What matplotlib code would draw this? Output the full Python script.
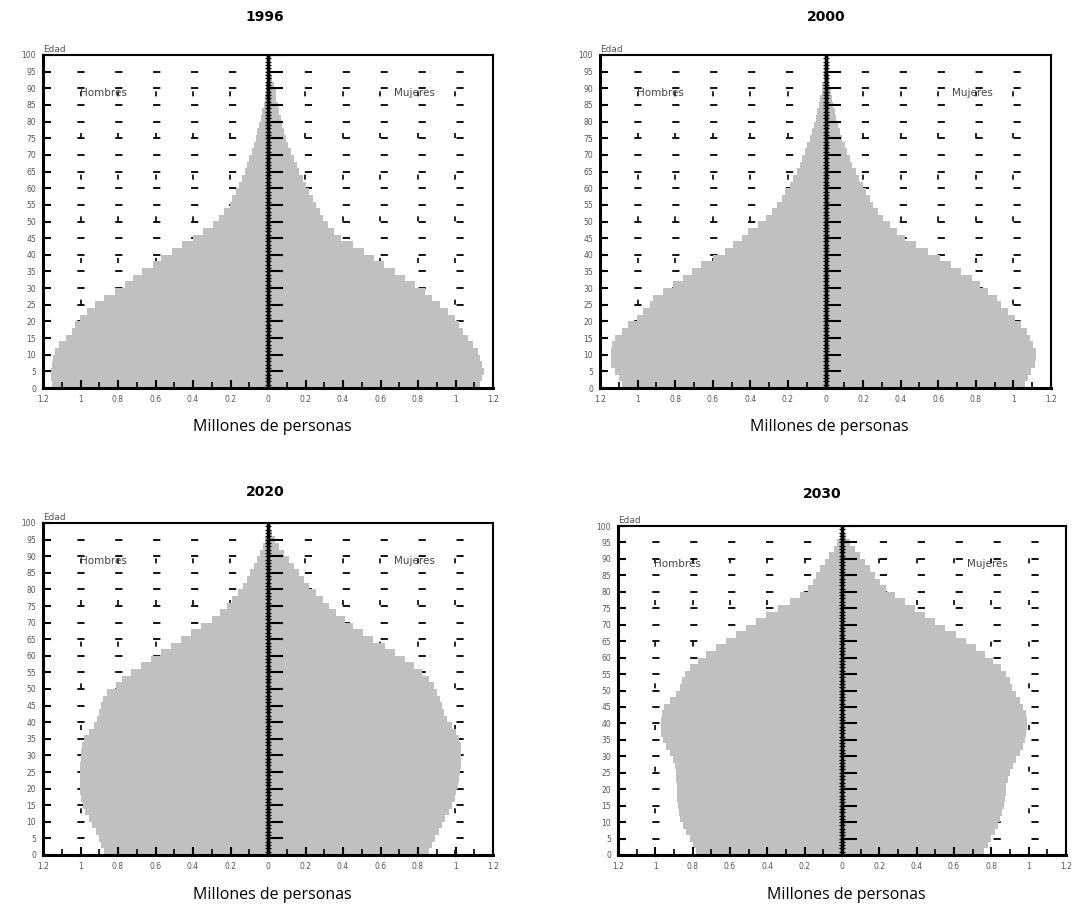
import numpy as np
import matplotlib.pyplot as plt
from matplotlib.ticker import FuncFormatter, MultipleLocator

# edades en grupos de 2 años (0-1, 2-3, ..., 98-99), poblacion en millones
edades = np.arange(0, 100, 2)

h1996 = [1.15, 1.16, 1.16, 1.15, 1.145, 1.135, 1.115, 1.08, 1.045, 1.03,
         1.005, 0.965, 0.925, 0.875, 0.815, 0.765, 0.72, 0.67, 0.615, 0.57,
         0.51, 0.46, 0.40, 0.345, 0.295, 0.26, 0.235, 0.205, 0.19, 0.17,
         0.155, 0.14, 0.125, 0.11, 0.10, 0.087, 0.075, 0.066, 0.058, 0.048,
         0.04, 0.03, 0.022, 0.017, 0.013, 0.009, 0.006, 0.004, 0.002, 0.001]
m1996 = [1.13, 1.14, 1.15, 1.14, 1.13, 1.12, 1.095, 1.065, 1.04, 1.02,
         0.995, 0.96, 0.915, 0.875, 0.835, 0.785, 0.73, 0.675, 0.62, 0.565,
         0.51, 0.455, 0.39, 0.35, 0.32, 0.295, 0.275, 0.255, 0.24, 0.22,
         0.20, 0.185, 0.167, 0.152, 0.14, 0.122, 0.108, 0.095, 0.085, 0.076,
         0.067, 0.058, 0.052, 0.045, 0.04, 0.03, 0.02, 0.014, 0.008, 0.004]

h2000 = [1.085, 1.10, 1.12, 1.14, 1.142, 1.142, 1.135, 1.12, 1.085, 1.05,
         1.005, 0.97, 0.935, 0.917, 0.864, 0.81, 0.757, 0.713, 0.66, 0.60,
         0.535, 0.49, 0.447, 0.41, 0.36, 0.314, 0.287, 0.26, 0.234, 0.216,
         0.19, 0.172, 0.154, 0.137, 0.124, 0.11, 0.096, 0.083, 0.074, 0.06,
         0.051, 0.043, 0.034, 0.027, 0.021, 0.016, 0.01, 0.007, 0.004, 0.002]
m2000 = [1.06, 1.078, 1.096, 1.113, 1.122, 1.122, 1.105, 1.087, 1.07, 1.043,
         1.007, 0.972, 0.936, 0.91, 0.865, 0.82, 0.777, 0.723, 0.67, 0.608,
         0.546, 0.484, 0.422, 0.378, 0.342, 0.307, 0.28, 0.254, 0.236, 0.218,
         0.20, 0.177, 0.16, 0.142, 0.13, 0.115, 0.103, 0.089, 0.076, 0.067,
         0.058, 0.05, 0.041, 0.032, 0.028, 0.021, 0.016, 0.011, 0.007, 0.003]

h2020 = [0.876, 0.89, 0.903, 0.92, 0.939, 0.957, 0.975, 0.987, 0.996, 1.002,
         1.002, 1.002, 1.002, 1.002, 1.0, 0.998, 0.993, 0.984, 0.957, 0.93,
         0.912, 0.903, 0.89, 0.88, 0.858, 0.813, 0.777, 0.732, 0.68, 0.625,
         0.571, 0.517, 0.463, 0.41, 0.355, 0.30, 0.257, 0.22, 0.194, 0.158,
         0.131, 0.113, 0.095, 0.077, 0.059, 0.041, 0.027, 0.014, 0.008, 0.004]
m2020 = [0.856, 0.874, 0.892, 0.91, 0.928, 0.946, 0.964, 0.982, 0.995, 1.005,
         1.013, 1.018, 1.023, 1.027, 1.03, 1.03, 1.027, 1.018, 1.005, 0.982,
         0.955, 0.94, 0.928, 0.916, 0.901, 0.883, 0.856, 0.82, 0.776, 0.731,
         0.677, 0.623, 0.56, 0.506, 0.452, 0.408, 0.363, 0.327, 0.291, 0.255,
         0.219, 0.192, 0.165, 0.138, 0.111, 0.084, 0.061, 0.039, 0.022, 0.008]

h2030 = [0.78, 0.798, 0.816, 0.834, 0.852, 0.866, 0.873, 0.879, 0.882, 0.884,
         0.884, 0.888, 0.891, 0.896, 0.905, 0.923, 0.945, 0.959, 0.971, 0.971,
         0.968, 0.963, 0.955, 0.923, 0.888, 0.866, 0.855, 0.843, 0.816, 0.771,
         0.727, 0.673, 0.62, 0.566, 0.513, 0.459, 0.405, 0.343, 0.28, 0.227,
         0.182, 0.155, 0.1375, 0.116, 0.093, 0.07, 0.045, 0.027, 0.0125, 0.005]
m2030 = [0.761, 0.782, 0.80, 0.818, 0.836, 0.848, 0.859, 0.866, 0.871, 0.877,
         0.88, 0.889, 0.902, 0.916, 0.934, 0.952, 0.97, 0.979, 0.9875, 0.993,
         0.991, 0.984, 0.97, 0.952, 0.93, 0.9125, 0.898, 0.88, 0.854, 0.809,
         0.764, 0.72, 0.666, 0.6125, 0.55, 0.496, 0.443, 0.389, 0.336, 0.282,
         0.2375, 0.202, 0.175, 0.148, 0.121, 0.095, 0.068, 0.041, 0.023, 0.011]

anios = ['1996', '2000', '2020', '2030']
hombres = [h1996, h2000, h2020, h2030]
mujeres = [m1996, m2000, m2020, m2030]

W, H = 1079, 907
fig = plt.figure(figsize=(W / 100, H / 100), dpi=100)

# cajas de cada piramide en pixeles: izquierda, arriba, derecha, abajo
cajas = [(43, 55, 493, 388), (600, 55, 1051, 388),
         (43, 523, 493, 855), (618, 526, 1066, 855)]
titulos_xy = [(265, 17), (826, 17), (265, 492), (822, 494)]
etiqueta_y = [427, 427, 895, 895]

gris = '#c0c0c0'
abs_fmt = FuncFormatter(lambda v, p: '%g' % round(abs(v), 1))

for i in range(4):
    l, t, r, b = cajas[i]
    ax = fig.add_axes([l / W, 1 - b / H, (r - l) / W, (b - t) / H])

    ax.barh(edades, -np.array(hombres[i]), height=2, align='edge',
            color=gris, linewidth=0, zorder=1)
    ax.barh(edades, mujeres[i], height=2, align='edge',
            color=gris, linewidth=0, zorder=1)

    ax.set_xlim(-1.2, 1.2)
    ax.set_ylim(0, 100)

    # rejilla punteada
    for yy in range(5, 100, 5):
        ax.axhline(yy, color='black', lw=1.3, ls=(2, (4, 17)), zorder=0)
    for xx in np.arange(-1.0, 1.01, 0.2):
        if abs(xx) > 0.01:
            ax.axvline(xx, color='black', lw=1.2, ls=(0, (3, 22)), zorder=0)

    # eje central con marcas de edad
    ax.axvline(0, color='black', lw=2.5, zorder=3)
    ax.hlines(np.arange(0, 101, 5), 0, 0.08, color='black', lw=1.5, zorder=3)
    ax.plot(np.zeros(101), np.arange(101), ls='none', marker='_',
            ms=4, mew=0.9, color='black', zorder=3)

    ax.xaxis.set_major_locator(MultipleLocator(0.2))
    ax.xaxis.set_minor_locator(MultipleLocator(0.1))
    ax.xaxis.set_major_formatter(abs_fmt)
    ax.yaxis.set_major_locator(MultipleLocator(5))
    ax.tick_params(axis='both', direction='in', labelsize=5.5,
                   labelcolor='#555555', width=1.5, length=6, pad=5)
    ax.tick_params(axis='x', which='minor', direction='in', width=1.2, length=4)
    for s in ax.spines.values():
        s.set_linewidth(1.5)
    ax.spines['left'].set_linewidth(2.2)
    ax.spines['bottom'].set_linewidth(2.2)

    ax.text(0, 1.004, 'Edad', transform=ax.transAxes, fontsize=6.5,
            color='#555555', va='bottom', ha='left')
    ax.text(-0.88, 88.5, 'Hombres', fontsize=7.5, color='#444444',
            ha='center', va='center', zorder=4)
    ax.text(0.78, 88.5, 'Mujeres', fontsize=7.5, color='#444444',
            ha='center', va='center', zorder=4)

    tx, ty = titulos_xy[i]
    fig.text(tx / W, 1 - ty / H, anios[i], fontsize=10, fontweight='bold',
             ha='center', va='center')
    fig.text(((l + r) / 2 + 4) / W, 1 - etiqueta_y[i] / H,
             'Millones de personas', fontsize=11.5, family='Open Sans',
             ha='center', va='center')

fig.savefig('out.png', dpi=100)
